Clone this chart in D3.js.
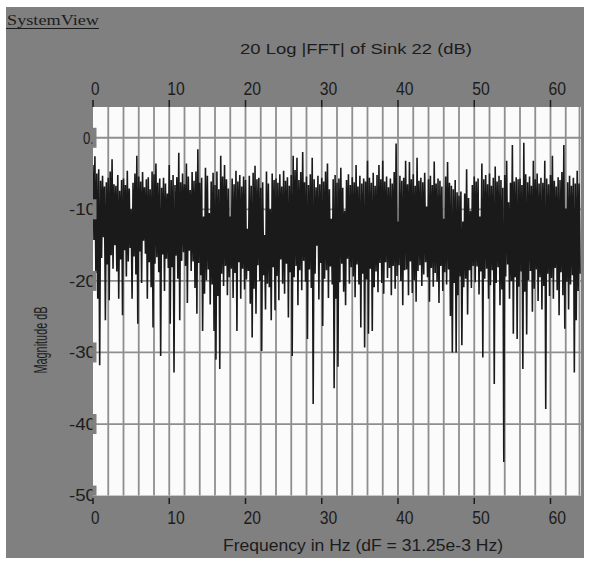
<!DOCTYPE html>
<html>
<head>
<meta charset="utf-8">
<script src="https://cdn.jsdelivr.net/npm/d3@7"></script>
<style>
  body { margin: 0; background: #ffffff; }
  text { font-family: "Liberation Sans", Arial, sans-serif; fill: #1c1c1c; }
</style>
</head>
<body>
<div id="chart"></div>
<script>
// tick values on the axes
var xTicks = [0, 10, 20, 30, 40, 50, 60];
var xGrid = [2, 4, 6, 8, 10, 12, 14, 16, 18, 20, 22, 24, 26, 28, 30, 32, 34, 36, 38, 40,
             42, 44, 46, 48, 50, 52, 54, 56, 58, 60, 62];
var yTicks = [0, -10, -20, -30, -40, -50];
var yLabels = ["0.", "-10", "-20", "-30", "-40", "-50"];

// spectrum samples, one every 0.125 Hz starting at 0 Hz (dB)
var freqStep = 0.125;
var magDb = [
  -3.8,-14.3,-2.6,-18.9,-5.0,-22.5,-4.4,-31.8,   // 0 Hz
  -6.0,-16.8,-5.3,-13.9,-6.8,-25.5,-6.2,-17.7,   // 1
  -5.6,-22.7,-4.7,-16.4,-3.0,-18.3,-6.5,-15.0,   // 2
  -6.7,-18.7,-5.2,-22.5,-7.4,-17.0,-5.9,-24.8,   // 3
  -5.7,-15.7,-6.6,-19.4,-4.6,-17.3,-7.1,-15.4,   // 4
  -10.0,-22.5,-6.3,-16.6,-5.0,-19.1,-2.5,-26.0,  // 5
  -5.4,-15.9,-6.1,-20.3,-4.8,-14.4,-6.9,-16.2,   // 6
  -5.8,-22.5,-5.5,-17.4,-7.2,-20.9,-4.7,-26.5,   // 7
  -5.1,-17.6,-3.6,-16.7,-6.3,-18.8,-5.7,-30.5,   // 8
  -7.0,-16.3,-5.6,-21.4,-6.4,-16.9,-7.8,-18.2,   // 9
  -3.8,-26.0,-5.9,-18.1,-5.2,-32.8,-6.6,-16.5,   // 10
  -5.5,-19.7,-2.1,-25.5,-6.2,-17.2,-5.0,-16.0,   // 11
  -6.5,-17.9,-3.6,-23.1,-5.4,-15.8,-7.3,-18.6,   // 12
  -4.8,-17.3,-6.0,-21.0,-4.7,-24.6,-1.6,-17.5,   // 13
  -6.3,-19.2,-5.6,-27.0,-11.0,-21.8,-4.2,-19.9,  // 14
  -5.3,-18.4,-10.5,-23.3,-6.1,-20.5,-4.9,-27.0,  // 15
  -6.6,-31.0,-4.7,-22.1,-7.2,-32.3,-2.5,-19.0,   // 16
  -5.4,-20.7,-3.8,-17.9,-5.8,-22.0,-7.1,-19.5,   // 17
  -11.0,-18.3,-5.7,-22.4,-6.5,-18.9,-4.6,-27.0,  // 18
  -6.1,-17.4,-5.2,-22.5,-6.8,-18.3,-5.4,-21.2,   // 19
  -5.9,-19.8,-12.7,-18.6,-5.3,-23.2,-6.7,-27.9,  // 20
  -4.9,-21.1,-3.9,-24.6,-5.8,-17.8,-5.6,-20.0,   // 21
  -7.0,-29.8,-6.2,-19.2,-13.6,-24.0,-4.7,-20.4,  // 22
  -6.4,-20.9,-10.0,-25.5,-5.0,-18.1,-5.9,-24.1,  // 23
  -5.7,-19.3,-6.3,-22.7,-5.1,-17.0,-6.8,-20.4,   // 24
  -4.6,-21.8,-6.0,-17.6,-5.5,-25.1,-6.7,-18.8,   // 25
  -5.2,-30.5,-2.5,-19.5,-4.5,-17.9,-2.8,-23.4,   // 26
  -5.9,-18.5,-4.8,-21.3,-2.0,-17.2,-6.2,-20.1,   // 27
  -5.4,-28.1,-6.6,-18.4,-5.1,-21.0,-2.8,-37.2,   // 28
  -5.8,-19.0,-6.9,-15.1,-5.3,-22.6,-6.5,-17.5,   // 29
  -5.6,-26.3,-6.1,-19.7,-4.7,-18.5,-3.6,-22.4,   // 30
  -7.2,-18.0,-11.3,-20.5,-5.8,-35.0,-5.2,-22.5,  // 31
  -6.3,-32.0,-5.7,-20.2,-4.2,-17.6,-7.0,-21.5,   // 32
  -10.2,-23.4,-5.9,-16.9,-5.1,-20.4,-6.6,-18.1,  // 33
  -5.5,-19.4,-6.2,-22.3,-3.8,-17.7,-6.8,-20.5,   // 34
  -5.3,-26.5,-6.4,-19.0,-5.7,-29.3,-6.1,-19.8,   // 35
  -3.2,-27.4,-5.6,-18.3,-6.3,-27.0,-4.9,-20.9,   // 36
  -6.7,-18.7,-5.2,-21.6,-3.8,-17.5,-5.8,-20.3,   // 37
  -3.2,-21.8,-6.1,-17.4,-5.4,-19.6,-6.9,-18.2,   // 38
  -5.7,-22.0,-6.4,-17.9,-4.8,-21.1,-0.8,-19.3,   // 39
  -11.7,-17.8,-5.3,-20.0,-6.0,-23.4,-5.6,-18.5,  // 40
  -3.2,-18.4,-6.5,-22.0,-3.4,-17.3,-5.8,-21.7,   // 41
  -5.1,-19.9,-6.7,-22.9,-2.8,-18.6,-6.0,-17.8,   // 42
  -5.6,-20.7,-6.2,-19.1,-4.9,-17.4,-9.6,-19.5,   // 43
  -5.8,-22.9,-5.3,-18.2,-6.6,-20.8,-3.3,-18.9,   // 44
  -6.4,-20.1,-5.7,-23.1,-6.0,-17.9,-6.8,-21.4,   // 45
  -11.3,-18.8,-5.4,-20.5,-3.4,-18.4,-6.3,-24.9,  // 46
  -6.7,-30.0,-7.2,-20.3,-5.9,-30.0,-7.6,-22.0,   // 47
  -8.1,-19.4,-7.5,-29.0,-11.7,-20.9,-7.8,-19.7,  // 48
  -4.4,-24.7,-8.4,-18.5,-10.2,-21.0,-6.6,-17.9,  // 49
  -5.4,-20.2,-6.1,-18.0,-5.7,-21.9,-11.0,-18.7,  // 50
  -3.6,-30.7,-5.8,-19.7,-5.2,-18.3,-6.5,-22.5,   // 51
  -5.0,-20.6,-6.7,-18.5,-5.6,-34.4,-4.0,-20.3,   // 52
  -6.1,-18.1,-5.3,-23.4,-5.9,-21.2,-7.0,-45.3,   // 53
  -5.2,-19.4,-3.2,-17.7,-9.0,-22.5,-6.3,-20.0,   // 54
  -1.0,-27.4,-6.1,-19.5,-5.5,-28.1,-5.8,-20.8,   // 55
  -5.7,-18.7,-6.6,-32.3,-0.7,-21.5,-5.1,-27.5,   // 56
  -6.2,-19.9,-5.4,-18.6,-6.7,-24.3,-3.2,-21.1,   // 57
  -5.8,-18.4,-5.0,-22.8,-6.4,-19.5,-5.6,-24.0,   // 58
  -6.3,-20.7,-3.2,-37.9,-5.7,-19.0,-6.5,-22.1,   // 59
  -5.2,-19.6,-2.5,-22.5,-6.0,-18.2,-6.8,-21.3,   // 60
  -5.5,-24.8,-5.9,-18.8,-4.8,-22.0,-1.0,-26.7,   // 61
  -9.9,-20.1,-6.2,-24.0,-5.3,-20.5,-6.7,-19.2,   // 62
  -5.6,-32.8,-6.4,-25.5,-4.6,-21.4,-6.4,-19.0    // 63
];

var W = 589, H = 561;
var gray = "#808080";

var svg = d3.select("#chart")
  .append("svg")
    .attr("width", W)
    .attr("height", H);

// outer gray panel
svg.append("rect")
  .attr("x", 6).attr("y", 7)
  .attr("width", 578).attr("height", 551)
  .attr("fill", gray);

var x = d3.scaleLinear()
  .domain([0, 64])
  .range([93, 581]);

var y = d3.scaleLinear()
  .domain([-50, 4.3])
  .range([495.6, 107]);

// plot area
svg.append("rect")
  .attr("x", x(0)).attr("y", y(4.3))
  .attr("width", x(64) - x(0))
  .attr("height", y(-50) - y(4.3))
  .attr("fill", "#fbfbfb");

svg.append("clipPath").attr("id", "plotclip")
  .append("rect")
  .attr("x", x(0)).attr("y", y(4.3))
  .attr("width", x(64) - x(0))
  .attr("height", y(-50) - y(4.3));

// grid
svg.append("g")
  .selectAll("line")
  .data(xGrid)
  .enter()
  .append("line")
    .attr("x1", function(d) { return x(d); })
    .attr("x2", function(d) { return x(d); })
    .attr("y1", y(4.3))
    .attr("y2", y(-50))
    .attr("stroke", "#8e8e8e")
    .attr("stroke-width", 1.8);

svg.append("line")
  .attr("x1", x(63.8)).attr("x2", x(63.8))
  .attr("y1", y(4.3)).attr("y2", y(-50))
  .attr("stroke", "#8e8e8e")
  .attr("stroke-width", 1.8);

svg.append("g")
  .selectAll("line")
  .data(yTicks.slice(0, 5))
  .enter()
  .append("line")
    .attr("x1", x(0))
    .attr("x2", x(64))
    .attr("y1", function(d) { return y(d); })
    .attr("y2", function(d) { return y(d); })
    .attr("stroke", "#8e8e8e")
    .attr("stroke-width", 1.8);

// spectrum trace
var line = d3.line()
  .x(function(d, i) { return x(i * freqStep); })
  .y(function(d) { return y(d); });

svg.append("path")
  .datum(magDb)
  .attr("clip-path", "url(#plotclip)")
  .attr("fill", "none")
  .attr("stroke", "#1a1a1a")
  .attr("stroke-width", 1.6)
  .attr("stroke-linejoin", "miter")
  .attr("stroke-miterlimit", 1)
  .attr("d", line);

// x ticks, top and bottom
svg.append("g")
  .selectAll("line")
  .data(xTicks)
  .enter()
  .append("line")
    .attr("x1", function(d) { return x(d); })
    .attr("x2", function(d) { return x(d); })
    .attr("y1", 100)
    .attr("y2", y(4.3))
    .attr("stroke", "#1a1a1a")
    .attr("stroke-width", 1.5);

svg.append("g")
  .selectAll("line")
  .data(xTicks)
  .enter()
  .append("line")
    .attr("x1", function(d) { return x(d); })
    .attr("x2", function(d) { return x(d); })
    .attr("y1", 498)
    .attr("y2", 504)
    .attr("stroke", "#1a1a1a")
    .attr("stroke-width", 1.5);

function tickLabels(yPos) {
  svg.append("g")
    .selectAll("text")
    .data(xTicks)
    .enter()
    .append("text")
      .attr("x", function(d) { return x(d) - 2; })
      .attr("y", yPos)
      .attr("font-size", "19px")
      .attr("textLength", function(d) { return String(d).length * 9 - 0.5; })
      .attr("lengthAdjust", "spacingAndGlyphs")
      .text(function(d) { return d; });
}
tickLabels(95);
tickLabels(524);

// y labels: gray boxes bite into the plot edge and crop the last digit
svg.append("clipPath").attr("id", "ylabclip")
  .append("rect")
  .attr("x", 0).attr("y", 0)
  .attr("width", 92.5).attr("height", H);

svg.append("g")
  .selectAll("rect")
  .data(yTicks)
  .enter()
  .append("rect")
    .attr("x", x(0) - 1)
    .attr("y", function(d) { return y(d) - 10; })
    .attr("width", 4.5)
    .attr("height", function(d) { return d == -50 ? 10 : 20; })
    .attr("fill", gray);

svg.append("g")
  .attr("clip-path", "url(#ylabclip)")
  .selectAll("text")
  .data(yTicks)
  .enter()
  .append("text")
    .attr("x", function(d) { return d == 0 ? 83 : 69; })
    .attr("y", function(d) { return y(d); })
    .attr("dy", "0.36em")
    .attr("font-size", "16px")
    .attr("textLength", function(d) { return d == 0 ? 11 : 27; })
    .attr("lengthAdjust", "spacingAndGlyphs")
    .text(function(d, i) { return yLabels[i]; });

// titles
svg.append("text")
  .attr("x", 7).attr("y", 25)
  .attr("font-size", "15px")
  .style("font-family", "'Liberation Serif', 'Times New Roman', serif")
  .attr("textLength", 92)
  .attr("lengthAdjust", "spacingAndGlyphs")
  .text("SystemView");
svg.append("line")
  .attr("x1", 6).attr("x2", 99)
  .attr("y1", 28.5).attr("y2", 28.5)
  .attr("stroke", "#1c1c1c")
  .attr("stroke-width", 1);

svg.append("text")
  .attr("x", 240).attr("y", 54)
  .attr("font-size", "15px")
  .attr("textLength", 232)
  .attr("lengthAdjust", "spacingAndGlyphs")
  .text("20 Log |FFT| of Sink 22 (dB)");

svg.append("text")
  .attr("x", 223).attr("y", 551)
  .attr("font-size", "16px")
  .attr("textLength", 280)
  .attr("lengthAdjust", "spacingAndGlyphs")
  .text("Frequency in Hz (dF = 31.25e-3 Hz)");

svg.append("text")
  .attr("text-anchor", "middle")
  .attr("transform", "translate(47,340) rotate(-90)")
  .attr("font-size", "19px")
  .attr("textLength", 67)
  .attr("lengthAdjust", "spacingAndGlyphs")
  .text("Magnitude dB");
</script>
</body>
</html>
